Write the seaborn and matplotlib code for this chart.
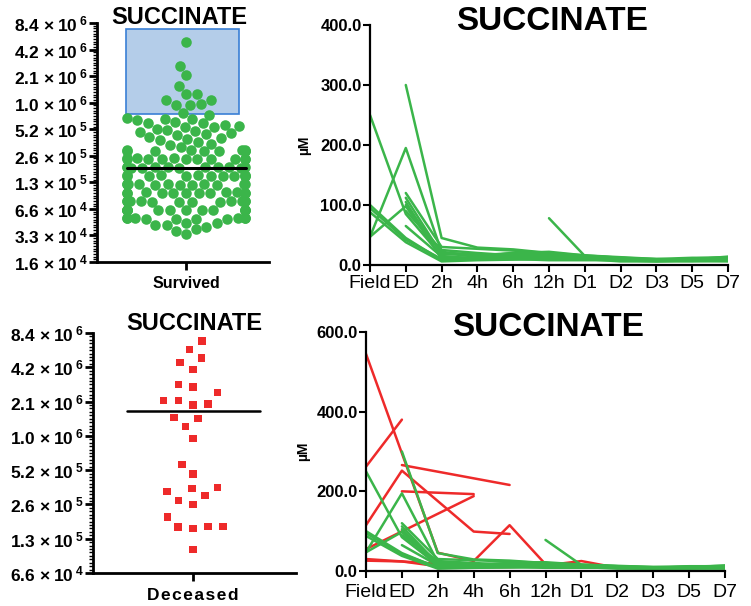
import numpy as np
import pandas as pd
import matplotlib
matplotlib.use('Agg')
import matplotlib.pyplot as plt
import seaborn as sns
from matplotlib.patches import Rectangle

sns.set_theme(style='ticks')
plt.rcParams['font.family'] = ['Liberation Sans', 'DejaVu Sans']
plt.rcParams['mathtext.fontset'] = 'custom'
plt.rcParams['mathtext.rm'] = 'Liberation Sans:bold'
plt.rcParams['mathtext.it'] = 'Liberation Sans:bold'
plt.rcParams['mathtext.bf'] = 'Liberation Sans:bold'
for key in ['text.color', 'axes.labelcolor', 'xtick.color', 'ytick.color', 'axes.edgecolor']:
    plt.rcParams[key] = 'black'

GREEN = '#3bb54a'
RED = '#ee2a2a'
N = None

# ---- data ----
survived = [
    # inside the blue box
    5.06e6, 2.77e6, 2.19e6, 1.62e6, 1.30e6, 1.31e6, 1.12e6, 1.13e6, 1.0e6, 1.01e6, 9.9e5, 8.0e5, 7.6e5,
    # 4e5 - 7e5
    7.0e5, 6.9e5, 6.8e5, 6.6e5, 6.3e5, 6.2e5, 6.1e5, 5.9e5, 5.7e5, 5.6e5, 5.5e5, 5.3e5, 5.2e5,
    5.0e5, 4.9e5, 4.7e5, 4.6e5, 4.5e5, 4.3e5, 4.2e5, 4.1e5, 4.0e5,
    3.8e5, 3.6e5, 3.5e5, 3.3e5,
    # dense block
    3.05e5, 3.00e5, 2.95e5, 3.02e5, 2.98e5, 3.04e5, 2.96e5, 3.01e5, 2.99e5, 3.03e5,
    2.45e5, 2.43e5, 2.41e5, 2.44e5, 2.42e5, 2.46e5, 2.40e5, 2.43e5, 2.44e5, 2.41e5, 2.45e5, 2.42e5,
    1.95e5, 1.94e5, 1.93e5, 1.96e5, 1.94e5, 1.92e5, 1.95e5, 1.93e5, 1.96e5, 1.94e5, 1.95e5, 1.92e5,
    1.57e5, 1.56e5, 1.55e5, 1.57e5, 1.56e5, 1.58e5, 1.54e5, 1.56e5, 1.55e5, 1.57e5, 1.56e5, 1.55e5,
    1.26e5, 1.25e5, 1.24e5, 1.26e5, 1.25e5, 1.27e5, 1.23e5, 1.25e5, 1.24e5, 1.26e5, 1.25e5, 1.24e5,
    1.00e5, 9.97e4, 9.9e4, 1.01e5, 9.95e4, 1.00e5, 9.9e4, 1.01e5, 9.97e4, 1.00e5, 9.92e4, 1.01e5,
    8.0e4, 7.98e4, 7.9e4, 8.05e4, 7.95e4, 8.0e4, 7.92e4, 8.03e4, 7.97e4, 8.0e4, 7.93e4, 8.02e4,
    6.4e4, 6.39e4, 6.35e4, 6.42e4, 6.37e4, 6.4e4, 6.33e4, 6.44e4, 6.38e4, 6.41e4, 6.36e4, 6.43e4,
    5.12e4, 5.1e4, 5.15e4, 5.08e4, 5.13e4, 5.11e4, 5.14e4, 5.09e4, 5.12e4, 5.1e4,
    # lowest points
    4.5e4, 4.35e4, 3.85e4, 3.37e4, 3.7e4, 4.1e4, 4.35e4, 4.5e4,
]
deceased = [
    7.15e6, 6.04e6, 5.07e6, 4.61e6, 4.0e6, 2.82e6, 2.95e6, 2.51e6, 2.14e6, 2.15e6,
    1.96e6, 2.0e6, 1.49e6, 1.53e6, 1.27e6, 9.9e5, 5.9e5, 4.86e5, 3.71e5, 3.64e5,
    3.4e5, 3.14e5, 2.63e5, 2.84e5, 2.04e5, 1.68e5, 1.66e5, 1.61e5, 1.68e5, 1.05e5,
]
survived_line = 1.9e5
deceased_line = 1.74e6
box_low, box_high = 7.8e5, 7.2e6

tick_mant = ['8.4', '4.2', '2.1', '1.0', '5.2', '2.6', '1.3', '6.6', '3.3', '1.6']
tick_exp = [6, 6, 6, 6, 5, 5, 5, 4, 4, 4]

times = ['Field', 'ED', '2h', '4h', '6h', '12h', 'D1', 'D2', 'D3', 'D5', 'D7']
surv_traj = [
    [250, 85, 15, 10, 10, 12, 10, 8, 7, 9, 10],
    [N, 300, 45, 29, 26, 20, 15, 12, 8, 10, 12],
    [47, 195, 22, 15, 18, 15, 12, 10, 8, 11, 13],
    [47, 98, 12, 12, 14, 16, 13, 10, 9, 8, 9],
    [100, 45, 8, 10, 12, 14, 12, 11, 9, 10, 11],
    [95, 42, 10, 14, 20, 18, 14, 9, 7, 7, 8],
    [88, 38, 6, 8, 9, 10, 10, 6, 6, 8, 9],
    [N, 120, 30, 27, 24, 20, 16, 12, 10, 9, 14],
    [N, 112, 18, 16, 20, 22, 16, 13, 10, 12, 12],
    [N, 105, 10, 9, 10, 8, 8, 8, 6, 6, 7],
    [N, 65, 14, 11, 16, 14, 11, 10, 8, 9, 10],
    [N, N, N, N, N, 78, 15, 10, 8, 7, 6],
    [N, 90, 25, 20, 16, 12, 10, N, N, N, N],
    [N, 100, 20, 18, 12, N, N, N, N, N, N],
]
dec_traj = [
    [545, N, 46, 25, 115, 17, N, N, N, N, N],
    [262, 380, N, N, N, N, N, N, N, N, N],
    [115, 252, N, 99, 93, N, N, N, N, N, N],
    [N, 266, N, N, 216, N, N, N, N, N, N],
    [55, N, N, 188, N, N, N, N, N, N, N],
    [N, 200, N, 193, N, N, N, N, N, N, N],
    [30, N, 18, 14, 12, 14, 25, 8, N, N, N],
    [26, 24, 12, 10, 10, 12, N, N, N, N, N],
]


def to_long(trajs, group):
    rows = []
    for i, tr in enumerate(trajs):
        for t, v in enumerate(tr):
            if v is not None:
                rows.append({'subject': f'{group}{i}', 't': t, 'value': v, 'group': group})
    return pd.DataFrame(rows)


def log_ticks(ax, n):
    vals = [8.4e6 / 2 ** k for k in range(n)]
    labels = [f'{m}$\\,\\times$10$\\,^{{{e}}}$' for m, e in zip(tick_mant[:n], tick_exp[:n])]
    ax.set_yticks(vals)
    ax.set_yticklabels(labels)
    minor = [v / 2 * 2 ** (j / 10) for v in vals[:-1] for j in range(1, 10)]
    ax.set_yticks(minor, minor=True)
    ax.set_yticklabels([], minor=True)
    ax.set_ylim(vals[-1], vals[0])
    ax.tick_params(axis='y', which='major', length=6, width=2, pad=1, labelsize=12.5)
    ax.tick_params(axis='y', which='minor', length=3, width=1)
    for lab in ax.get_yticklabels():
        lab.set_fontweight('bold')
    sns.despine(ax=ax)
    for s in ['left', 'bottom']:
        ax.spines[s].set_linewidth(2)


fig = plt.figure(figsize=(7.51, 6.06), dpi=100)

# ---- top left: survived swarm ----
ax1 = fig.add_axes([97 / 751, 1 - 262 / 606, 172 / 751, 239 / 606])
ax1.set_yscale('log', base=2)
ax1.add_patch(Rectangle((-0.407, box_low), 0.766, box_high - box_low,
                        facecolor='#b4cde9', edgecolor='#3a7fd5', lw=1.2, zorder=0))
sns.swarmplot(x=['Survived'] * len(survived), y=survived, color=GREEN, size=7.6,
              linewidth=0, ax=ax1, zorder=2, warn_thresh=1)
ax1.plot([-0.40, 0.407], [survived_line] * 2, color='black', lw=2.2, zorder=5)
ax1.set_xlim(-0.603, 0.563)
log_ticks(ax1, 10)
ax1.set_xticks([0])
ax1.set_xticklabels(['Survived'], fontsize=11.5, fontweight='bold')
ax1.tick_params(axis='x', length=6, width=2, pad=4)

# ---- bottom left: deceased swarm ----
ax2 = fig.add_axes([93 / 751, 1 - 573 / 606, 203 / 751, 240 / 606])
ax2.set_yscale('log', base=2)
sns.swarmplot(x=['Deceased'] * len(deceased), y=deceased, color=RED, marker='s', size=5.3,
              linewidth=5, edgecolor='none', ax=ax2, zorder=2)
ax2.plot([-0.325, 0.33], [deceased_line] * 2, color='black', lw=1.8, zorder=5)
ax2.set_xlim(-0.493, 0.507)
log_ticks(ax2, 8)
ax2.set_xticks([0])
ax2.set_xticklabels(['\u200a'.join('Deceased')], fontsize=12.5, fontweight='bold')
ax2.tick_params(axis='x', length=6, width=2, pad=5)

# ---- right: trajectories ----
surv_df = to_long(surv_traj, 'S')
dec_df = to_long(dec_traj, 'D')
pal = {'S': GREEN, 'D': RED}

ax3 = fig.add_axes([370 / 751, 1 - 265 / 606, 358 / 751, 240 / 606])
ax4 = fig.add_axes([366 / 751, 1 - 571 / 606, 359 / 751, 239 / 606])

sns.lineplot(data=surv_df, x='t', y='value', units='subject', estimator=None, hue='group',
             palette=pal, lw=1.8, legend=False, ax=ax3)
sns.lineplot(data=dec_df, x='t', y='value', units='subject', estimator=None, hue='group',
             palette=pal, lw=1.8, legend=False, ax=ax4)
sns.lineplot(data=surv_df, x='t', y='value', units='subject', estimator=None, hue='group',
             palette=pal, lw=1.8, legend=False, ax=ax4)

for ax, top, step, xpad, lab_x in [(ax3, 400, 100, 2, -0.165), (ax4, 600, 200, 4.5, -0.155)]:
    ax.set_xlim(0, 10)
    ax.set_ylim(0, top)
    ax.set_xticks(range(len(times)))
    ax.set_xticklabels(times, fontsize=14)
    yt = list(range(0, top + 1, step))
    ax.set_yticks(yt)
    ax.set_yticklabels([f'{v:.1f}' for v in yt], fontsize=12, fontweight='bold')
    ax.tick_params(axis='y', length=5, width=1.5, pad=1)
    ax.tick_params(axis='x', length=5, width=1.5, pad=xpad)
    ax.set_xlabel('')
    ax.set_ylabel('µM', fontsize=10, fontweight='bold')
    ax.yaxis.set_label_coords(lab_x, 0.5)
    sns.despine(ax=ax)
    for s in ['left', 'bottom']:
        ax.spines[s].set_linewidth(1.6)

fig.text(179 / 751, 1 - 17 / 606, 'SUCCINATE', ha='center', va='center', fontsize=17, fontweight='bold')
fig.text(194 / 751, 1 - 324 / 606, 'SUCCINATE', ha='center', va='center', fontsize=17, fontweight='bold')
fig.text(552 / 751, 1 - 22 / 606, 'SUCCINATE', ha='center', va='center', fontsize=24, fontweight='bold')
fig.text(548 / 751, 1 - 328 / 606, 'SUCCINATE', ha='center', va='center', fontsize=24, fontweight='bold')

fig.savefig('out.png', dpi=100)
